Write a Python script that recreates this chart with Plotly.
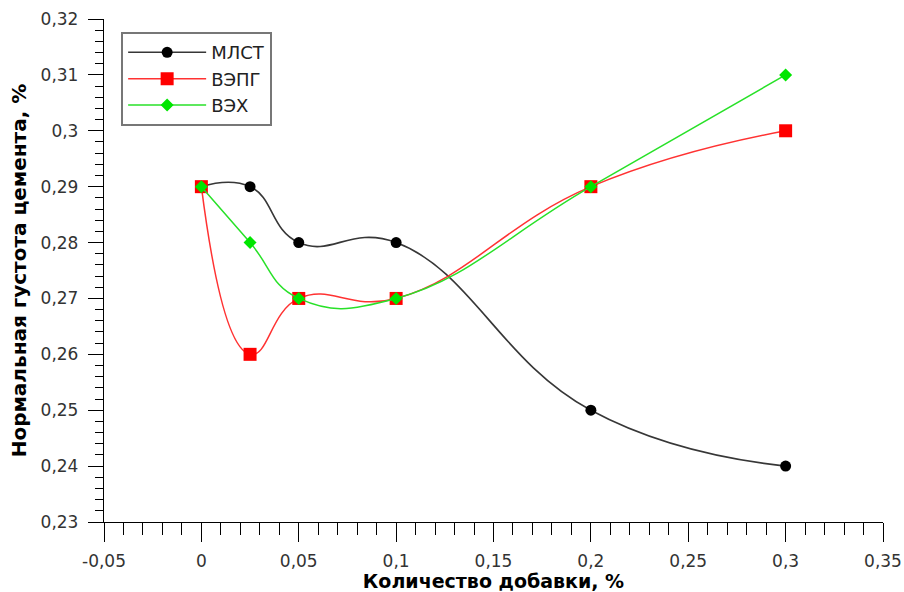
import plotly.graph_objects as go

x_vals = [0, 0.025, 0.05, 0.1, 0.2, 0.3]
mlst = [0.29, 0.29, 0.28, 0.28, 0.25, 0.24]
vepg = [0.29, 0.26, 0.27, 0.27, 0.29, 0.30]
veh = [0.29, 0.28, 0.27, 0.27, 0.29, 0.31]

series_names = ["МЛСТ", "ВЭПГ", "ВЭХ"]

x_tickvals = [-0.05, 0, 0.05, 0.1, 0.15, 0.2, 0.25, 0.3, 0.35]
x_ticktext = ["-0,05", "0", "0,05", "0,1", "0,15", "0,2", "0,25", "0,3", "0,35"]
y_tickvals = [0.23, 0.24, 0.25, 0.26, 0.27, 0.28, 0.29, 0.30, 0.31, 0.32]
y_ticktext = ["0,23", "0,24", "0,25", "0,26", "0,27", "0,28", "0,29", "0,3", "0,31", "0,32"]

FONT = "DejaVu Sans"

fig = go.Figure()
fig.add_trace(go.Scatter(
    x=x_vals, y=mlst, name=series_names[0], mode="lines+markers",
    line=dict(color="rgb(55,55,55)", width=1.6, shape="spline", smoothing=1.3),
    marker=dict(symbol="circle", size=11, color="black"),
))
fig.add_trace(go.Scatter(
    x=x_vals, y=vepg, name=series_names[1], mode="lines+markers",
    line=dict(color="rgb(255,50,50)", width=1.5, shape="spline", smoothing=1.3),
    marker=dict(symbol="square", size=13, color="rgb(255,0,0)"),
))
fig.add_trace(go.Scatter(
    x=x_vals, y=veh, name=series_names[2], mode="lines+markers",
    line=dict(color="rgb(40,225,40)", width=1.5, shape="spline", smoothing=1.3),
    marker=dict(symbol="diamond", size=10, color="rgb(0,230,0)"),
))

axis_common = dict(
    showgrid=False, zeroline=False, showline=True, linecolor="black", linewidth=1.3,
    ticks="outside", tickwidth=1.3, tickcolor="black",
    tickfont=dict(family=FONT, size=17, color="#333"),
    tickmode="array", automargin=False,
)

fig.update_xaxes(
    **axis_common, range=[-0.05, 0.35], tickvals=x_tickvals, ticktext=x_ticktext,
    ticklen=19, ticklabelstandoff=4,
    minor=dict(ticks="outside", dtick=0.01, tick0=0, ticklen=12, tickwidth=1.2, tickcolor="black"),
    title=dict(text="<b>Количество добавки, %</b>", font=dict(family=FONT, size=19, color="black"), standoff=2),
)
fig.update_yaxes(
    **axis_common, range=[0.23, 0.32], tickvals=y_tickvals, ticktext=y_ticktext,
    ticklen=15, ticklabelstandoff=6,
    minor=dict(ticks="outside", dtick=0.002, tick0=0.23, ticklen=8, tickwidth=1.2, tickcolor="black"),
    title=dict(text="<b>Нормальная густота цемента, %</b>", font=dict(family=FONT, size=20, color="black"), standoff=8),
)

fig.update_layout(
    width=904, height=592,
    margin=dict(l=104, r=21, t=19, b=70),
    paper_bgcolor="white", plot_bgcolor="white",
    font=dict(family=FONT, size=17, color="#222"),
    showlegend=True,
    legend=dict(
        x=0.022, y=0.974, xanchor="left", yanchor="top",
        bordercolor="#777", borderwidth=2, bgcolor="white",
        font=dict(family=FONT, size=18, color="#222"),
        itemwidth=78, tracegroupgap=0,
    ),
)

fig.write_html("out.html")
